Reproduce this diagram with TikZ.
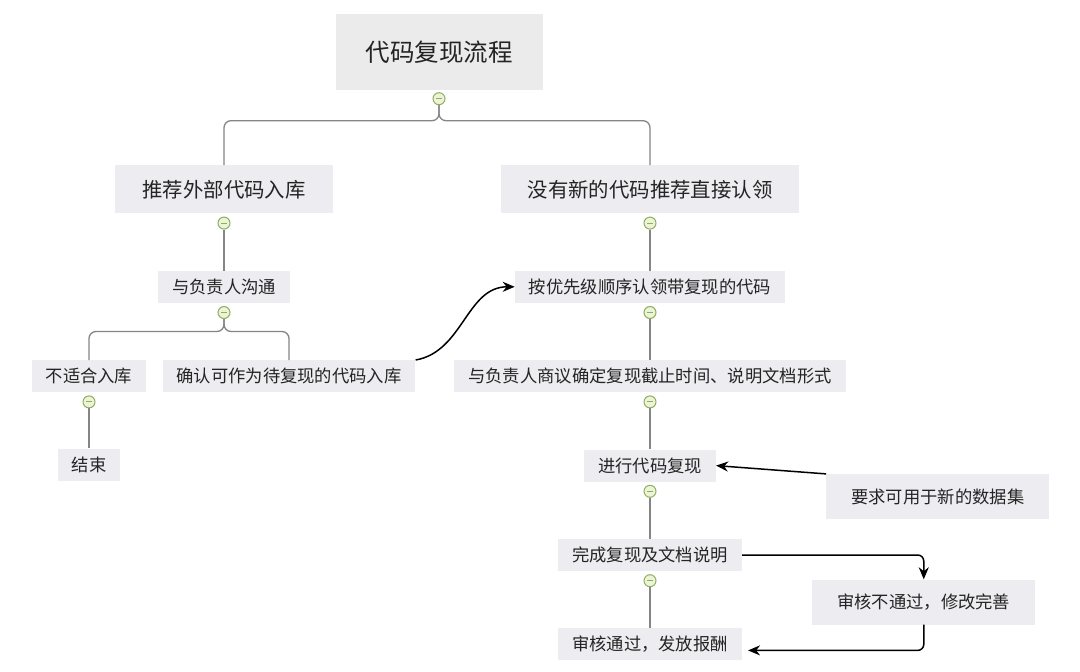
\documentclass[tikz,border=0pt]{standalone}
\usepackage{fontspec}
\setmainfont{Noto Sans CJK SC}
\usetikzlibrary{calc}
\usetikzlibrary{arrows.meta}
\usetikzlibrary{positioning}

\definecolor{boxfill}{HTML}{ECECF1}
\definecolor{rootfill}{HTML}{EBEBEB}
\definecolor{txtgray}{HTML}{242424}
\definecolor{treegray}{HTML}{858585}
\definecolor{folddraw}{HTML}{8FAE62}
\definecolor{foldfill}{HTML}{ECF3D6}

\begin{document}
\begin{tikzpicture}[
  x=1pt, y=-1pt,
  node distance=57pt,
  base/.style={
    rectangle, fill=boxfill, text=txtgray, inner ysep=0pt},
  rootbox/.style={
    base, fill=rootfill, inner xsep=30pt, minimum height=76pt,
    font=\fontsize{24.5}{28}\selectfont},
  topic/.style={
    base, inner xsep=27pt, minimum height=48pt,
    font=\fontsize{20.4}{24}\selectfont},
  sub/.style={
    base, inner xsep=14pt, minimum height=32pt,
    font=\fontsize{17.3}{20}\selectfont},
  note/.style={
    base, inner xsep=25pt, minimum height=45pt,
    font=\fontsize{17.3}{20}\selectfont},
  fold/.style={
    circle, draw=folddraw, fill=foldfill, line width=1pt,
    minimum size=12pt, inner sep=0pt,
    path picture={\draw[folddraw, line width=1pt]
      ([xshift=-3pt]path picture bounding box.center) --
      ([xshift=3pt]path picture bounding box.center);}},
  tree/.style={draw=treegray, line width=1.3pt, rounded corners=7pt},
  arr/.style={-{Stealth[length=12pt,width=10pt]}, line width=1.5pt,
    rounded corners=6pt},
]
  \useasboundingbox[fill=white] (0,0) rectangle (1080,672);

  % ── Root and first level ────────────────────────────────────────────────
  \node[rootbox] (root) at (439,52) {代码复现流程};
  \node[fold, below=2pt of root] (f0) {};
  \node[topic, below=75pt of root, xshift=-215pt] (ext)
      {推荐外部代码入库};
  \node[topic, below=75pt of root, xshift=211pt]  (direct)
      {没有新的代码推荐直接认领};

  % ── Left branch ─────────────────────────────────────────────────────────
  \node[fold, below=3pt of ext]   (f1) {};
  \node[sub,  below=57pt of ext]  (talk) {与负责人沟通};
  \node[fold, below=3pt of talk]  (f2) {};
  \node[sub,  below=57pt of talk, xshift=-135pt] (unfit)
      {不适合入库};
  \node[sub,  below=57pt of talk, xshift=65pt]   (confirm)
      {确认可作为待复现的代码入库};
  \node[fold, below=3pt of unfit]  (f3) {};
  \node[sub,  below=56pt of unfit] (stop) {结束};

  % ── Right branch (main spine) ───────────────────────────────────────────
  \node[fold, below=3pt of direct]  (f4) {};
  \node[sub,  below=57pt of direct] (claim)
      {按优先级顺序认领带复现的代码};
  \node[fold, below=3pt of claim]   (f5) {};
  \node[sub,  below=57pt of claim]  (agree)
      {与负责人商议确定复现截止时间、说明文档形式};
  \node[fold, below=3pt of agree]   (f6) {};
  \node[sub,  below=57pt of agree]  (repro) {进行代码复现};
  \node[fold, below=3pt of repro]   (f7) {};
  \node[sub,  below=57pt of repro]  (done) {完成复现及文档说明};
  \node[fold, below=3pt of done]    (f8) {};
  \node[sub,  below=57pt of done]   (pass) {审核通过，发放报酬};

  % ── Side notes ──────────────────────────────────────────────────────────
  \node[note, right=110pt of repro, yshift=-31pt] (req)
      {要求可用于新的数据集};
  \node[note, right=70pt of done, yshift=-47pt]   (fail)
      {审核不通过，修改完善};

  % ── Tree lines ──────────────────────────────────────────────────────────
  \coordinate (bus0) at ($(f0)+(0,22)$);
  \coordinate (bus2) at ($(f2)+(0,19)$);
  \draw[tree] (f0.south) -- (bus0) -| (ext.north);
  \draw[tree] (f0.south) -- (bus0) -| (direct.north);
  \draw[tree] (f1.south) -- (talk.north);
  \draw[tree] (f2.south) -- (bus2) -| (unfit.north);
  \draw[tree] (f2.south) -- (bus2) -| (confirm.north);
  \draw[tree] (f3.south) -- (stop.north);
  \draw[tree] (f4.south) -- (claim.north);
  \draw[tree] (f5.south) -- (agree.north);
  \draw[tree] (f6.south) -- (repro.north);
  \draw[tree] (f7.south) -- (done.north);
  \draw[tree] (f8.south) -- (pass.north);

  % ── Cross links ─────────────────────────────────────────────────────────
  \draw[arr] (confirm.north east) to[out=10, in=180] (claim.west);
  \draw[arr] (req.north west) -- (repro.east);
  \draw[arr] (done.east) -| (fail.north);
  \draw[arr] (fail.south) |- ([xshift=6pt, yshift=-6pt]pass.east);

\end{tikzpicture}
\end{document}
